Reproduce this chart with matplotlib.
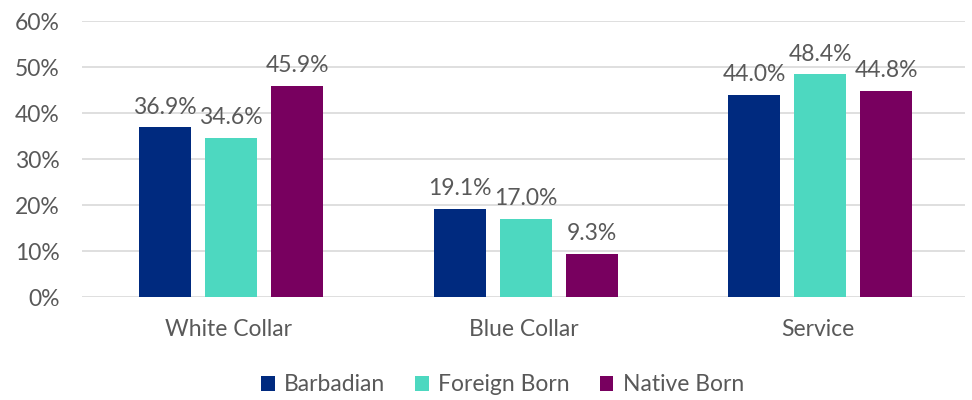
import matplotlib
import matplotlib.pyplot as plt
import numpy as np

matplotlib.use("Agg")

categories = ["White Collar", "Blue Collar", "Service"]
series_names = ["Barbadian", "Foreign Born", "Native Born"]
barbadian = [36.9, 19.1, 44.0]
foreign_born = [34.6, 17.0, 48.4]
native_born = [45.9, 9.3, 44.8]
colors = ["#002A7F", "#4DD8C0", "#78005F"]

plt.rcParams["font.family"] = ["Lato", "DejaVu Sans"]
text_color = "#595959"

fig = plt.figure(figsize=(9.72, 4.0), dpi=100)
ax = fig.add_axes([0.084, 0.2575, 0.909, 0.69])

x = np.arange(len(categories))
width = 0.177
step = 0.224
for i, (name, vals) in enumerate(zip(series_names, [barbadian, foreign_born, native_born])):
    pos = x + (i - 1) * step + 0.008
    bars = ax.bar(pos, vals, width, color=colors[i], label=name, zorder=3)
    for b, v in zip(bars, vals):
        ax.annotate(f"{v:.1f}%", (b.get_x() + b.get_width() / 2, v),
                    xytext=(0, 7), textcoords="offset points",
                    ha="center", va="bottom", fontsize=16.5, color=text_color)

ax.set_xlim(-0.5, len(categories) - 0.5)
ax.set_ylim(0, 60)
ax.set_yticks(np.arange(0, 61, 10))
ax.set_yticklabels([f"{t}%" for t in range(0, 61, 10)])
ax.set_xticks(x)
ax.set_xticklabels(categories)
ax.tick_params(axis="both", length=0, labelsize=16.5, colors=text_color)
ax.tick_params(axis="x", pad=16)
ax.tick_params(axis="y", pad=16)
ax.grid(axis="y", color="#D9D9D9", linewidth=1.2, zorder=0)
for s in ax.spines.values():
    s.set_visible(False)

fig.legend(loc="lower center", bbox_to_anchor=(0.517, -0.04), ncol=3, frameon=False,
           fontsize=16.5, labelcolor=text_color, handlelength=0.6, handleheight=0.6,
           handletextpad=0.4, columnspacing=1.3)

fig.savefig("out.png", dpi=100)
